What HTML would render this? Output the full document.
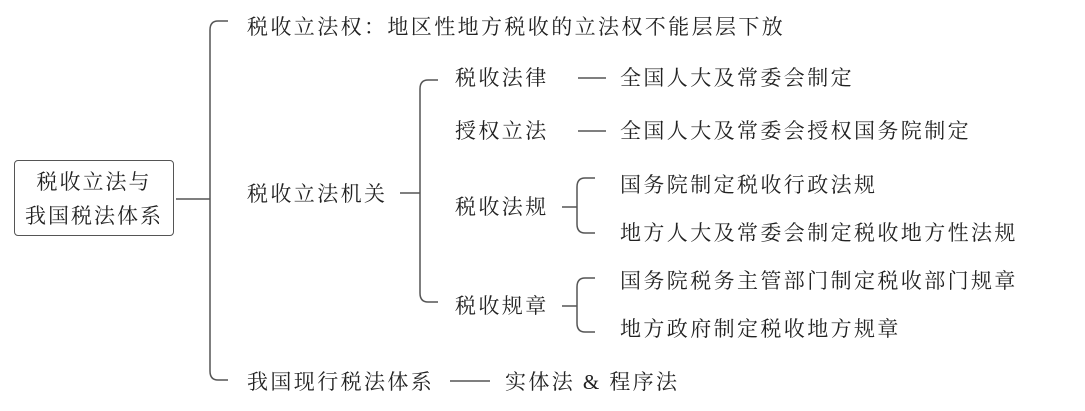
<!DOCTYPE html>
<html><head><meta charset="utf-8"><style>
body{margin:0;width:1085px;height:411px;background:#fff;position:relative;overflow:hidden;font-family:"Liberation Serif","Noto Serif CJK SC",serif;color:#222}
.t{position:absolute;font-size:21px;letter-spacing:2.4px;line-height:24px;white-space:nowrap;transform:translateY(-12px)}
.box{position:absolute;left:14px;top:160px;width:160px;height:76px;border:1.5px solid #555;border-radius:4px;font-size:21px;letter-spacing:2px;line-height:34px;text-align:center;padding-top:4px;box-sizing:border-box}
svg{position:absolute;left:0;top:0}
</style></head><body>
<svg width="1085" height="411" fill="none" stroke="#555" stroke-width="1.5">
<path d="M176 199 H210"/>
<path d="M228 21 H218 Q210 21 210 30 V371 Q210 380 218 380 H228"/>
<path d="M400 193 H420"/>
<path d="M438 80 H428 Q420 80 420 89 V293 Q420 302 428 302 H438"/>
<path d="M578 78 H606 M578 131 H606 M450 381 H490"/>
<path d="M562 207 H577 M562 306 H577"/>
<path d="M595 178 H585 Q577 178 577 187 V224 Q577 233 585 233 H595"/>
<path d="M595 278 H585 Q577 278 577 287 V323 Q577 332 585 332 H595"/>
</svg>
<div class="box">税收立法与<br>我国税法体系</div>
<div class="t" style="left:247px;top:27px">税收立法权：地区性地方税收的立法权不能层层下放</div>
<div class="t" style="left:247px;top:194px">税收立法机关</div>
<div class="t" style="left:247px;top:382px">我国现行税法体系</div>
<div class="t" style="left:505px;top:382px">实体法 &amp; 程序法</div>
<div class="t" style="left:455px;top:78px">税收法律</div>
<div class="t" style="left:455px;top:131px">授权立法</div>
<div class="t" style="left:455px;top:207px">税收法规</div>
<div class="t" style="left:455px;top:306px">税收规章</div>
<div class="t" style="left:620px;top:78px">全国人大及常委会制定</div>
<div class="t" style="left:620px;top:131px">全国人大及常委会授权国务院制定</div>
<div class="t" style="left:620px;top:185px">国务院制定税收行政法规</div>
<div class="t" style="left:620px;top:233px">地方人大及常委会制定税收地方性法规</div>
<div class="t" style="left:620px;top:281px">国务院税务主管部门制定税收部门规章</div>
<div class="t" style="left:620px;top:329px">地方政府制定税收地方规章</div>
</body></html>
